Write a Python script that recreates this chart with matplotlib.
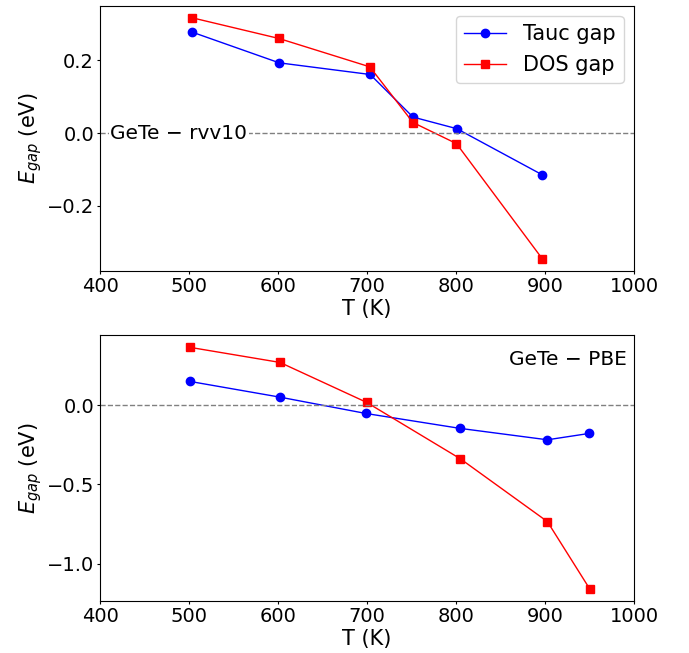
import numpy as np
import matplotlib
matplotlib.use('Agg')
import matplotlib.pyplot as plt

# Band gaps vs temperature, rvv10 functional
T_rvv_tauc = [502.6, 601.2, 703.4, 751.5, 800.8, 897.0]
gap_rvv_tauc = [0.278, 0.193, 0.161, 0.044, 0.012, -0.115]
T_rvv_dos = [503.0, 600.8, 703.0, 751.5, 800.4, 897.0]
gap_rvv_dos = [0.317, 0.260, 0.182, 0.029, -0.029, -0.346]

# Band gaps vs temperature, PBE functional
T_pbe_tauc = [501.0, 602.0, 698.6, 804.4, 902.6, 949.5]
gap_pbe_tauc = [0.149, 0.050, -0.053, -0.147, -0.219, -0.179]
T_pbe_dos = [501.0, 602.0, 699.4, 804.8, 902.6, 950.0]
gap_pbe_dos = [0.364, 0.269, 0.017, -0.339, -0.735, -1.158]

plt.rcParams['font.size'] = 14
plt.rcParams['xtick.major.size'] = 2.5
plt.rcParams['ytick.major.size'] = 2.5
plt.rcParams['xtick.major.pad'] = 2
plt.rcParams['ytick.major.pad'] = 2

fig = plt.figure(figsize=(6.89, 6.53), dpi=100)
ax1 = fig.add_axes([0.1456, 0.585, 0.7746, 0.4063])
ax2 = fig.add_axes([0.1456, 0.0801, 0.7746, 0.4064])

# Top panel
ax1.plot(T_rvv_tauc, gap_rvv_tauc, 'b-o', lw=1, ms=6, label='Tauc gap')
ax1.plot(T_rvv_dos, gap_rvv_dos, 'r-s', lw=1, ms=6, label='DOS gap')
ax1.axhline(0, color='gray', ls='--', lw=1)
ax1.text(411, 0, 'GeTe \u2212 rvv10', va='center', ha='left', fontsize=14.5,
         bbox=dict(facecolor='white', edgecolor='none', pad=1))
ax1.set_xlim(400, 1000)
ax1.set_yticks([-0.2, 0.0, 0.2])
ax1.set_xlabel('T (K)', fontsize=15, labelpad=2)
ax1.set_ylabel(r'$E_{gap}$ (eV)', fontsize=15, labelpad=2)
ax1.legend(loc='upper right', fontsize=15)

# Bottom panel
ax2.plot(T_pbe_tauc, gap_pbe_tauc, 'b-o', lw=1, ms=6)
ax2.plot(T_pbe_dos, gap_pbe_dos, 'r-s', lw=1, ms=6)
ax2.axhline(0, color='gray', ls='--', lw=1)
ax2.text(0.987, 0.907, 'GeTe \u2212 PBE', transform=ax2.transAxes,
         va='center', ha='right', fontsize=14.5)
ax2.set_xlim(400, 1000)
ax2.set_yticks([-1.0, -0.5, 0.0])
ax2.set_xlabel('T (K)', fontsize=15, labelpad=2)
ax2.set_ylabel(r'$E_{gap}$ (eV)', fontsize=15, labelpad=2)

fig.savefig('out.png', dpi=100)
